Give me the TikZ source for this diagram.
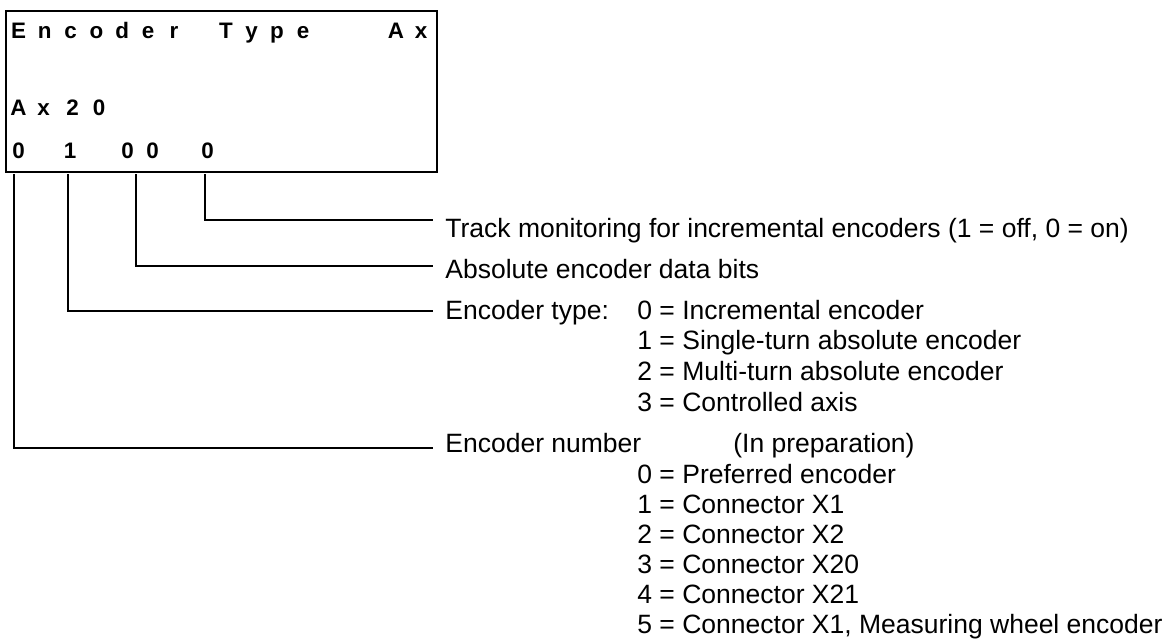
\documentclass[tikz,border=0pt]{standalone}
\usepackage{fontspec}
\setmainfont{Liberation Sans}
\begin{document}
\begin{tikzpicture}[
        x=0.5pt, y=-0.5pt,
        lcd/.style = {anchor=base, inner sep=0pt, font=\fontsize{11.2}{13}\selectfont\bfseries},
        txt/.style = {anchor=base west, inner sep=0pt, font=\fontsize{13.25}{15}\selectfont},
        wire/.style = {line width=0.65pt}
    ]
        \useasboundingbox (0,0) rectangle (1165,639);

        % Display frame and its three lines
        \node[draw, line width=1.2pt, inner sep=0pt, anchor=north west,
              minimum width=215.5pt, minimum height=80.5pt] (disp) at (5,10) {};
        \foreach \x/\c [count=\i] in {18.7/E,44.6/n,70.5/c,96.4/o,122.3/d,148.2/e,174.1/r,
                                      226/T,251.5/y,277/p,303/e,396/A,421/x}
            \node[lcd] (h\i) at (\x,38) {\c};
        \foreach \x/\c [count=\i] in {18.5/A,43.5/x,72.5/2,99/0}
            \node[lcd] (a\i) at (\x,115) {\c};
        \foreach \x/\c [count=\i] in {18.5/0,70/1,127.5/0,152.5/0,207.5/0}
            \node[lcd] (d\i) at (\x,158) {\c};

        % Descriptions
        \node[txt] (track) at (445,237) {Track monitoring for incremental encoders (1 = off, 0 = on)};
        \node[txt] (absbits) at (445,278) {Absolute encoder data bits};
        \node[txt] (etype) at (445,319) {Encoder type:};
        \foreach \t [count=\i from 0] in {Incremental encoder, Single-turn absolute encoder,
                                         Multi-turn absolute encoder, Controlled axis}
            \node[txt] (et\i) at (637,319+30.7*\i) {\i{} = \t};
        \node[txt] (enum) at (445,452) {Encoder number};
        \node[txt] (prep) at (733,452) {(In preparation)};
        \foreach \t [count=\i from 0] in {Preferred encoder, Connector X1, Connector X2,
                                         Connector X20, Connector X21,
                                         {Connector X1, Measuring wheel encoder}}
            \node[txt] (en\i) at (637,483+30*\i) {\i{} = \t};

        % Leader lines
        \coordinate (c1) at (14,174);
        \coordinate (c2) at (68,174);
        \coordinate (c3) at (136,174);
        \coordinate (c4) at (205,174);
        \coordinate (e4) at (433,220);
        \coordinate (e3) at (433,266);
        \coordinate (e2) at (433,311);
        \coordinate (e1) at (433,448);
        \draw[wire] (c4) |- (e4);
        \draw[wire] (c3) |- (e3);
        \draw[wire] (c2) |- (e2);
        \draw[wire] (c1) |- (e1);
    \end{tikzpicture}
\end{document}
